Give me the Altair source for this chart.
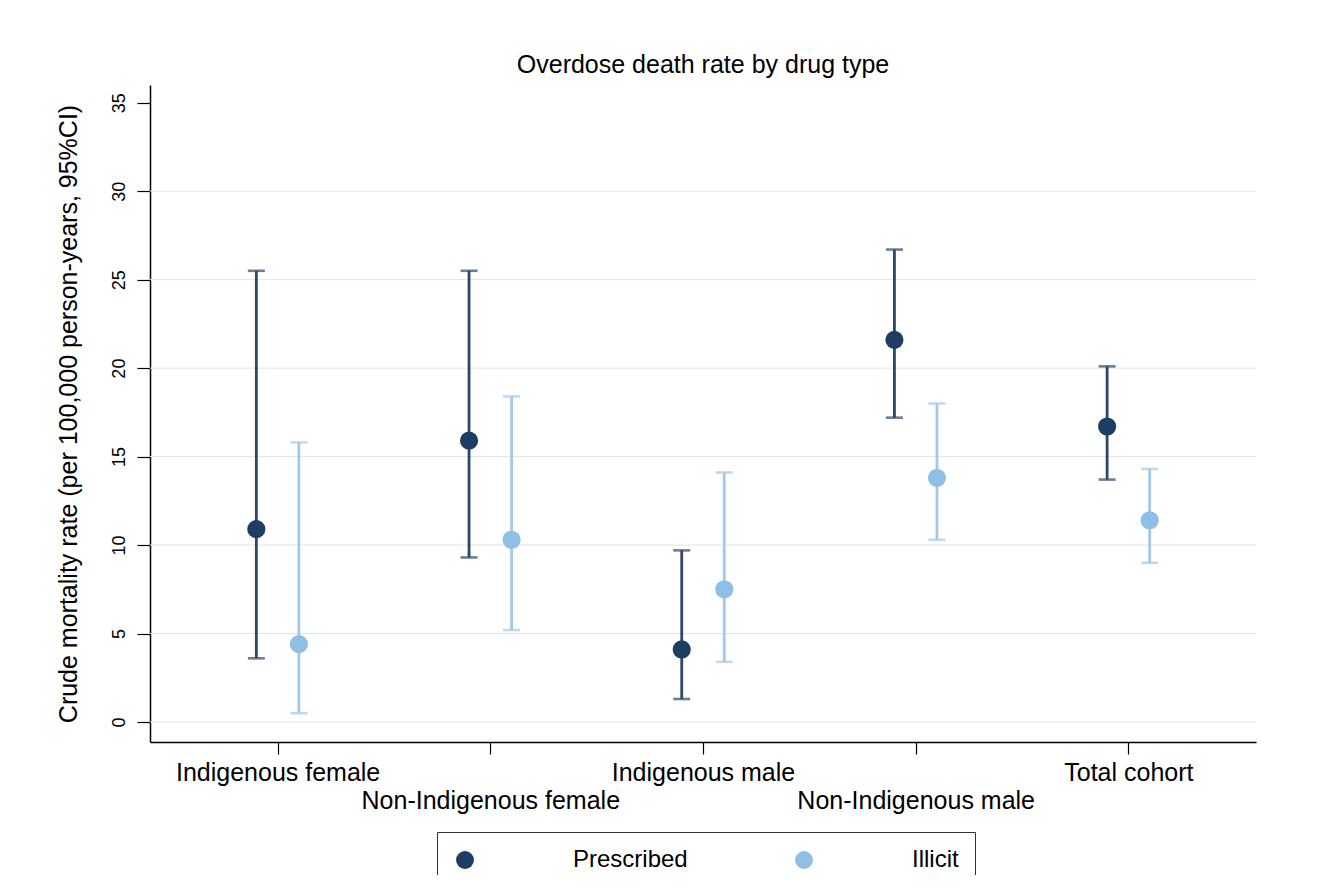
import altair as alt
import pandas as pd

categories = ["Indigenous female", "Non-Indigenous female", "Indigenous male",
              "Non-Indigenous male", "Total cohort"]
drug_types = ["Prescribed", "Illicit"]
prescribed_rate = [10.9, 15.9, 4.1, 21.6, 16.7]
prescribed_lo = [3.6, 9.3, 1.3, 17.2, 13.7]
prescribed_hi = [25.5, 25.5, 9.7, 26.7, 20.1]
illicit_rate = [4.4, 10.3, 7.5, 13.8, 11.4]
illicit_lo = [0.5, 5.2, 3.4, 10.3, 9.0]
illicit_hi = [15.8, 18.4, 14.1, 18.0, 14.3]
y_ticks = [0, 5, 10, 15, 20, 25, 30, 35]
grid_values = [0, 5, 10, 15, 20, 25, 30]

point_colors = ["#1d3d62", "#8ec0e7"]
bar_colors = ["#2c4767", "#a2c9ea"]
offsets = {"Prescribed": -0.1, "Illicit": 0.1}

rows = []
series = {
    "Prescribed": (prescribed_rate, prescribed_lo, prescribed_hi),
    "Illicit": (illicit_rate, illicit_lo, illicit_hi),
}
for d in drug_types:
    r, lo, hi = series[d]
    for i, c in enumerate(categories):
        rows.append({"category": c, "drug": d, "pos": i + 1 + offsets[d],
                     "rate": r[i], "lo": lo[i], "hi": hi[i]})
df = pd.DataFrame(rows)
caps = pd.concat([
    df[["pos", "drug"]].assign(value=df["lo"]),
    df[["pos", "drug"]].assign(value=df["hi"]),
])
grid_df = pd.DataFrame({"g": grid_values})

# x labels: alternate rows
parts = []
for i, c in enumerate(categories):
    lab = "'" + c.replace("'", "\\'") + "'"
    if i % 2 == 1:
        lab = "['', " + lab + "]"
    parts.append(f"datum.value == {i + 1} ? {lab} : ")
label_expr = "".join(parts) + "''"

FONT = "Liberation Sans"

x_axis = alt.Axis(values=[1, 2, 3, 4, 5], labelExpr=label_expr, title=None,
                  grid=False, domainColor="#000000", domainWidth=1.5,
                  tickColor="#000000", tickSize=12, tickWidth=1.2,
                  labelFontSize=25, labelColor="#000000", labelPadding=6,
                  labelLineHeight=28, labelOverlap=False, labelFlush=False,
                  labelLimit=0, labelFont=FONT)
y_axis = alt.Axis(values=y_ticks, grid=False, domainColor="#000000",
                  domainWidth=1.5, tickColor="#000000", tickSize=13,
                  tickWidth=1.2, labelAngle=270, labelAlign="center",
                  labelBaseline="bottom", labelFontSize=18,
                  labelColor="#000000", labelPadding=9, labelFont=FONT,
                  title="Crude mortality rate (per 100,000 person-years, 95%CI)",
                  titleFontSize=25, titleFontWeight="normal",
                  titleColor="#000000", titlePadding=29, titleFont=FONT,
                  titleLimit=0)

xs = alt.Scale(domain=[0.4, 5.6], nice=False, zero=False)
ys = alt.Scale(domain=[-1.13, 36.0], nice=False, zero=False)

grid = alt.Chart(grid_df).mark_rule(color="#e4e4e4", strokeWidth=1).encode(
    y=alt.Y("g:Q", scale=ys, axis=y_axis)
)

bars = alt.Chart(df).mark_rule(strokeWidth=2.8).encode(
    x=alt.X("pos:Q", scale=xs, axis=x_axis),
    y=alt.Y("lo:Q", scale=ys, axis=y_axis),
    y2="hi:Q",
    color=alt.Color("drug:N", scale=alt.Scale(domain=drug_types, range=bar_colors),
                    legend=None),
)

cap_marks = alt.Chart(caps).mark_tick(orient="horizontal", size=17, thickness=2.6).encode(
    x=alt.X("pos:Q", scale=xs, axis=x_axis),
    y=alt.Y("value:Q", scale=ys, axis=y_axis),
    color=alt.Color("drug:N", scale=alt.Scale(domain=drug_types, range=bar_colors),
                    legend=None),
)

points = alt.Chart(df).mark_circle(size=330, opacity=1).encode(
    x=alt.X("pos:Q", scale=xs, axis=x_axis),
    y=alt.Y("rate:Q", scale=ys, axis=y_axis),
    color=alt.Color("drug:N", scale=alt.Scale(domain=drug_types, range=point_colors),
                    legend=alt.Legend(orient="none", legendX=287, legendY=747,
                                      direction="horizontal", title=None,
                                      strokeColor="#333333", padding=16,
                                      labelFontSize=24, labelFont=FONT,
                                      labelColor="#000000", labelOffset=96,
                                      columnPadding=104, symbolSize=320,
                                      symbolType="circle", symbolStrokeWidth=0)),
)

chart = alt.layer(grid, bars, cap_marks, points).resolve_scale(
    color="independent"
).properties(
    width=1106,
    height=657,
    title=alt.TitleParams("Overdose death rate by drug type", fontSize=25,
                          font=FONT, fontWeight="normal", color="#000000",
                          anchor="middle", baseline="alphabetic", offset=-13),
    autosize=alt.AutoSizeParams(type="none"),
    padding={"left": 142, "top": 77, "right": 53, "bottom": 133},
).configure(font=FONT, background="#ffffff").configure_view(stroke=None)

chart.save("out.html", embed_options={"renderer": "svg", "actions": False})
